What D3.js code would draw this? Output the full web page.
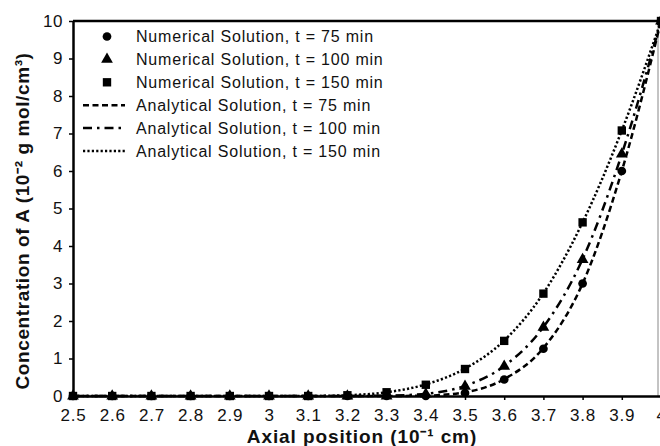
<!DOCTYPE html>
<html>
<head>
<meta charset="utf-8">
<script src="https://cdn.jsdelivr.net/npm/d3@7"></script>
<style>
  body { margin: 0; background: #fff; }
  svg { display: block; font-family: "Liberation Sans", Arial, sans-serif; }
</style>
</head>
<body>
<div id="chart"></div>
<script>
// axial positions (10^-1 cm)
const positions = [2.5, 2.6, 2.7, 2.8, 2.9, 3.0, 3.1, 3.2, 3.3, 3.4, 3.5, 3.6, 3.7, 3.8, 3.9, 4.0];
const xTicks = [2.5, 2.6, 2.7, 2.8, 2.9, 3, 3.1, 3.2, 3.3, 3.4, 3.5, 3.6, 3.7, 3.8, 3.9, 4];
const yTicks = [0, 1, 2, 3, 4, 5, 6, 7, 8, 9, 10];

// numerical solution (markers)
const num75 = [0, 0, 0, 0, 0, 0, 0, 0, 0, 0, 0.08, 0.44, 1.26, 3.0, 6.0, 10];
const num100 = [0, 0, 0, 0, 0, 0, 0, 0, 0, 0.05, 0.26, 0.79, 1.83, 3.64, 6.45, 10];
const num150 = [0, 0, 0, 0, 0, 0, 0, 0.02, 0.1, 0.3, 0.72, 1.47, 2.73, 4.63, 7.08, 10];

// analytical solution (lines)
const ana75 = [0, 0, 0, 0, 0, 0, 0, 0, 0, 0.01, 0.1, 0.45, 1.28, 3.0, 6.0, 10];
const ana100 = [0, 0, 0, 0, 0, 0, 0, 0, 0.01, 0.06, 0.27, 0.8, 1.84, 3.65, 6.45, 10];
const ana150 = [0, 0, 0, 0, 0, 0, 0, 0.02, 0.1, 0.31, 0.73, 1.48, 2.74, 4.63, 7.08, 10];

const seriesNames = [
  "Numerical Solution, t = 75 min",
  "Numerical Solution, t = 100 min",
  "Numerical Solution, t = 150 min",
  "Analytical Solution, t = 75 min",
  "Analytical Solution, t = 100 min",
  "Analytical Solution, t = 150 min",
];

const width = 660, height = 446;
const margin = { left: 73, top: 21, right: -1, bottom: 50 };
const textColor = "#111";

const svg = d3.select("#chart").append("svg")
  .attr("width", width)
  .attr("height", height);

const x = d3.scaleLinear().domain([2.5, 4.0]).range([margin.left, width - margin.right]);
const y = d3.scaleLinear().domain([0, 10]).range([height - margin.bottom, margin.top]);

// plot frame (top thick, right thin)
svg.append("line")
  .attr("x1", x(2.5)).attr("x2", 658)
  .attr("y1", y(10)).attr("y2", y(10))
  .attr("stroke", "#000").attr("stroke-width", 2.5);
svg.append("line")
  .attr("x1", 658).attr("x2", 658)
  .attr("y1", y(10)).attr("y2", y(0))
  .attr("stroke", "#888").attr("stroke-width", 1);

// analytical lines
const lineGen = d3.line()
  .x((d, i) => x(positions[i]))
  .y((d) => y(d))
  .curve(d3.curveMonotoneX);

const anaSeries = [
  { data: ana75, dash: "6,3.5" },
  { data: ana100, dash: "9,5,2.5,5" },
  { data: ana150, dash: "2.2,2.2" },
];

svg.append("g")
  .selectAll("path")
  .data(anaSeries)
  .join("path")
  .attr("d", (d) => lineGen(d.data))
  .attr("fill", "none")
  .attr("stroke", "#000")
  .attr("stroke-width", 2.5)
  .attr("stroke-dasharray", (d) => d.dash);

// numerical markers
const numSeries = [
  { data: num75, sym: d3.symbolCircle, size: 60 },
  { data: num100, sym: d3.symbolTriangle, size: 60 },
  { data: num150, sym: d3.symbolSquare, size: 70 },
];

numSeries.forEach((s) => {
  svg.append("g")
    .selectAll("path")
    .data(s.data)
    .join("path")
    .attr("transform", (d, i) => `translate(${x(positions[i])},${y(d)})`)
    .attr("d", d3.symbol(s.sym, s.size))
    .attr("fill", "#000");
});

// axes
const axisX = svg.append("g")
  .attr("transform", `translate(0,${y(0)})`)
  .call(d3.axisBottom(x).tickValues(xTicks).tickSize(4).tickSizeOuter(0).tickFormat(d3.format("")));
const axisY = svg.append("g")
  .attr("transform", `translate(${x(2.5)},0)`)
  .call(d3.axisLeft(y).tickValues(yTicks).tickSize(4).tickSizeOuter(0));

[axisX, axisY].forEach((a) => {
  a.select(".domain").attr("stroke", "#000").attr("stroke-width", 2.5);
  a.selectAll(".tick line").attr("stroke", "#000").attr("stroke-width", 1.5);
  a.selectAll(".tick text")
    .attr("fill", textColor)
    .style("font-size", "17px")
    .style("letter-spacing", "0.8px")
    .style("font-family", "'Liberation Sans', Arial, sans-serif");
});
axisX.selectAll(".tick text").attr("y", 9).attr("dy", "0.95em");
axisY.selectAll(".tick text").attr("x", -10).style("letter-spacing", "0.5px");

// axis titles
svg.append("text")
  .attr("x", 362).attr("y", 443)
  .attr("text-anchor", "middle")
  .style("font-size", "19px")
  .style("font-weight", "bold")
  .style("letter-spacing", "0.9px")
  .attr("fill", textColor)
  .text("Axial position (10⁻¹ cm)");

svg.append("text")
  .attr("transform", `translate(29,221) rotate(-90)`)
  .attr("text-anchor", "middle")
  .style("font-size", "19px")
  .style("font-weight", "bold")
  .style("letter-spacing", "0.6px")
  .attr("fill", textColor)
  .text("Concentration of A (10⁻² g mol/cm³)");

// legend
const legend = svg.append("g");
const rowY = (i) => 36.5 + i * 22.9;

seriesNames.forEach((name, i) => {
  if (i < 3) {
    legend.append("path")
      .attr("transform", `translate(107,${rowY(i)})`)
      .attr("d", d3.symbol(numSeries[i].sym, numSeries[i].size))
      .attr("fill", "#000");
  } else {
    legend.append("line")
      .attr("x1", 83).attr("x2", 125)
      .attr("y1", rowY(i)).attr("y2", rowY(i))
      .attr("stroke", "#000")
      .attr("stroke-width", 2.5)
      .attr("stroke-dasharray", anaSeries[i - 3].dash);
  }
  legend.append("text")
    .attr("x", 136)
    .attr("y", rowY(i) + 5.8)
    .style("font-size", "16px")
    .style("letter-spacing", "0.8px")
    .attr("fill", textColor)
    .text(name);
});
</script>
</body>
</html>
